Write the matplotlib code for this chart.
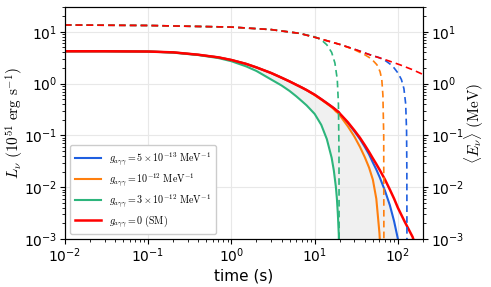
import matplotlib
matplotlib.use("Agg")
import matplotlib.pyplot as plt
import numpy as np

plt.rcParams['mathtext.fontset'] = 'cm'

# time grid (s) for luminosity curves
t = [0.01, 0.03, 0.1, 0.2, 0.4, 0.7, 1, 1.5, 2, 3, 4, 5, 6, 7, 8, 10, 12, 14, 16,
     17, 18, 18.5, 19, 19.5, 20, 25, 30, 35, 40, 45, 50, 55, 60, 61, 70, 80, 90, 100,
     120, 150, 160]
L_sm = [4.2, 4.2, 4.15, 4.0, 3.6, 3.2, 2.85, 2.4, 2.05, 1.6, 1.3, 1.1, 0.95, 0.84, 0.75,
        0.61, 0.5, 0.42, 0.36, 0.335, 0.31, 0.3, 0.29, 0.28, 0.265, 0.18, 0.125, 0.09,
        0.065, 0.048, 0.036, 0.028, 0.022, 0.021, 0.014, 0.009, 0.006, 0.004, 0.0022,
        0.0011, 0.0008]
L_5e13 = [4.2, 4.2, 4.15, 4.0, 3.6, 3.2, 2.85, 2.4, 2.05, 1.6, 1.3, 1.1, 0.95, 0.84, 0.75,
          0.61, 0.5, 0.42, 0.36, 0.335, 0.31, 0.3, 0.29, 0.28, 0.26, 0.175, 0.12, 0.085,
          0.06, 0.043, 0.03, 0.022, 0.016, 0.015, 0.0085, 0.0045, 0.0022, 0.001, 1e-4,
          1e-5, 1e-5]
L_1e12 = [4.2, 4.2, 4.15, 4.0, 3.6, 3.2, 2.85, 2.4, 2.05, 1.6, 1.3, 1.1, 0.95, 0.84, 0.75,
          0.6, 0.49, 0.41, 0.35, 0.32, 0.29, 0.28, 0.27, 0.26, 0.245, 0.15, 0.095, 0.06,
          0.038, 0.024, 0.014, 0.006, 0.0013, 0.0008, 1e-5, 1e-5, 1e-5, 1e-5, 1e-5,
          1e-5, 1e-5]
L_3e12 = [4.2, 4.2, 4.15, 3.95, 3.55, 3.1, 2.7, 2.15, 1.75, 1.2, 0.92, 0.72, 0.57, 0.46,
          0.38, 0.26, 0.16, 0.085, 0.037, 0.021, 0.01, 0.006, 0.003, 0.0012, 1e-5, 1e-5,
          1e-5, 1e-5, 1e-5, 1e-5, 1e-5, 1e-5, 1e-5, 1e-5, 1e-5, 1e-5, 1e-5, 1e-5, 1e-5,
          1e-5, 1e-5]

# mean energy curves
tE_sm = [0.01, 0.1, 1, 3, 6.6, 10.4, 20, 30, 46, 70, 106, 150, 200]
E_sm = [13.5, 13.2, 12.3, 11.0, 9.3, 7.7, 5.7, 4.6, 3.6, 2.9, 2.3, 1.85, 1.5]
tE_5e13 = [0.01, 0.1, 1, 3, 6.6, 10.4, 20, 30, 46, 60, 70, 80, 90, 100, 110, 118, 124,
           127, 128, 128.5]
E_5e13 = [13.5, 13.2, 12.3, 11.0, 9.3, 7.7, 5.7, 4.6, 3.6, 3.15, 2.8, 2.4, 2.0, 1.6,
          1.2, 0.8, 0.4, 0.12, 0.02, 1e-4]
tE_1e12 = [0.01, 0.1, 1, 3, 6.6, 10.4, 20, 30, 40, 48, 56, 61, 64, 66, 67.5, 68]
E_1e12 = [13.5, 13.2, 12.3, 11.0, 9.3, 7.7, 5.7, 4.5, 3.6, 3.0, 2.3, 1.7, 1.2, 0.6,
          0.1, 1e-4]
tE_3e12 = [0.01, 0.1, 1, 3, 6.6, 10, 12, 14, 16, 17.5, 18.7, 19.3, 19.6, 19.7]
E_3e12 = [13.5, 13.2, 12.3, 11.0, 9.3, 8.0, 7.0, 5.6, 4.0, 2.5, 1.2, 0.4, 0.05, 1e-4]

labels = [r'$g_{a\gamma\gamma} = 5\times10^{-13}\ \mathrm{MeV}^{-1}$',
          r'$g_{a\gamma\gamma} = 10^{-12}\ \mathrm{MeV}^{-1}$',
          r'$g_{a\gamma\gamma} = 3\times10^{-12}\ \mathrm{MeV}^{-1}$',
          r'$g_{a\gamma\gamma} = 0\ \mathrm{(SM)}$']
colors = ['#1f5fe0', '#ff7f0e', '#2db57c', '#ff0000']

fig = plt.figure(figsize=(4.91, 2.87), dpi=100)
ax = fig.add_axes([0.132, 0.167, 0.7295, 0.8086])
ax.fill_between(t, L_3e12, L_5e13, color='#e6e6e6', alpha=0.6, lw=0)
ax.plot(t, L_5e13, color=colors[0], lw=1.5, label=labels[0])
ax.plot(t, L_1e12, color=colors[1], lw=1.5, label=labels[1])
ax.plot(t, L_3e12, color=colors[2], lw=1.5, label=labels[2])
ax.plot(t, L_sm, color=colors[3], lw=1.8, label=labels[3])

ax.plot(tE_5e13, E_5e13, color=colors[0], lw=1.2, ls=(0, (4, 2.5)))
ax.plot(tE_1e12, E_1e12, color=colors[1], lw=1.2, ls=(0, (4, 2.5)))
ax.plot(tE_3e12, E_3e12, color=colors[2], lw=1.2, ls=(0, (4, 2.5)))
ax.plot(tE_sm, E_sm, color=colors[3], lw=1.2, ls=(0, (4, 2.5)))

ax.set_xscale('log')
ax.set_yscale('log')
ax.set_xlim(1e-2, 200)
ax.set_ylim(1e-3, 30)
ax.grid(True, which='major', color='#e8e8e8', lw=0.8)
ax.tick_params(labelsize=10, pad=2)
ax.set_xlabel('time (s)', fontsize=11, labelpad=2)
ax.set_ylabel(r'$L_\nu\ (10^{51}\ \mathrm{erg\ s^{-1}})$', fontsize=11)
ax.yaxis.set_label_coords(-0.108, 0.5)

ax2 = ax.twinx()
ax2.set_yscale('log')
ax2.set_ylim(1e-3, 30)
ax2.tick_params(labelsize=10, pad=2)
ax2.set_ylabel(r'$\langle E_\nu \rangle\ (\mathrm{MeV})$', fontsize=11)
ax2.yaxis.set_label_coords(1.112, 0.5)

ax.legend(loc='lower left', fontsize=7.2, framealpha=1, edgecolor='#cccccc',
          handlelength=2.6, borderpad=0.5, labelspacing=0.45, handletextpad=0.8)

fig.savefig('out.png', dpi=100)
